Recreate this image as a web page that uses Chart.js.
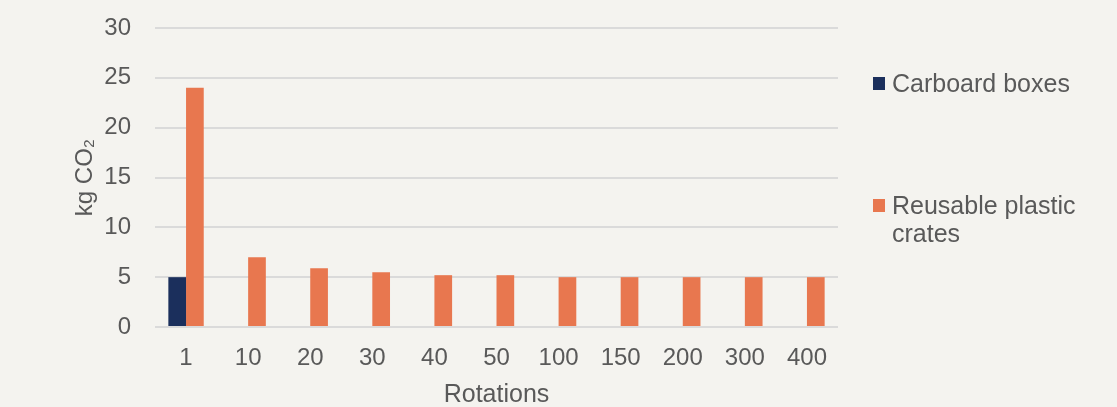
<!DOCTYPE html>
<html lang="en">
<head>
  <meta charset="UTF-8" />
  <title>kg CO2 per rotation</title>
  <script src="https://cdn.jsdelivr.net/npm/chart.js"></script>
  <style>
    html, body {
      margin: 0;
      padding: 0;
      background: #f4f3ef;
      font-family: "Liberation Sans", Arial, sans-serif;
    }
    .wrap {
      position: relative;
      width: 1117px;
      height: 407px;
    }
    #legend {
      position: absolute;
      left: 873px;
      top: 69px;
      color: #595959;
      font-size: 25px;
      line-height: 28px;
    }
    .item {
      display: flex;
      align-items: flex-start;
    }
    .item + .item { margin-top: 94px; }
    .swatch {
      width: 12px;
      height: 13px;
      margin-top: 8px;
      margin-right: 7px;
      flex: none;
    }
    .label { max-width: 215px; }
  </style>
</head>
<body>
  <div class="wrap">
    <canvas id="co2Chart" width="1117" height="407"></canvas>
    <div id="legend"></div>
  </div>

  <script>
    // data
    const rotations = ['1', '10', '20', '30', '40', '50', '100', '150', '200', '300', '400'];
    const cardboard = [5, null, null, null, null, null, null, null, null, null, null];
    const plasticCrates = [24, 7.0, 5.9, 5.5, 5.2, 5.2, 5.0, 5.0, 5.0, 5.0, 5.0];
    const yTicks = [0, 5, 10, 15, 20, 25, 30];

    const navy = '#1b2f5c';
    const orange = '#e8774f';
    const textGray = '#595959';

    const ctx = document.getElementById('co2Chart').getContext('2d');
    const chart = new Chart(ctx, {
      type: 'bar',
      data: {
        labels: rotations,
        datasets: [
          { label: 'Carboard boxes', data: cardboard, backgroundColor: navy },
          { label: 'Reusable plastic crates', data: plasticCrates, backgroundColor: orange }
        ]
      },
      options: {
        responsive: false,
        animation: false,
        layout: { padding: { top: 28, right: 279, bottom: 0, left: 0 } },
        datasets: {
          bar: { categoryPercentage: 0.57, barPercentage: 1.0 }
        },
        scales: {
          x: {
            grid: { display: false },
            border: { display: false },
            ticks: { color: textGray, font: { size: 24 }, padding: 9 },
            title: {
              display: true,
              text: 'Rotations',
              color: textGray,
              font: { size: 25 },
              padding: { top: 0, bottom: -3 }
            },
            afterFit: (s) => { s.height = 80; }
          },
          y: {
            min: 0,
            max: 30,
            afterBuildTicks: (s) => { s.ticks = yTicks.map(v => ({ value: v })); },
            grid: { color: '#dadada', lineWidth: 2, drawTicks: false },
            border: { display: false },
            ticks: { color: textGray, font: { size: 24 }, padding: 24 },
            title: {
              display: true,
              text: 'kg CO₂',
              color: textGray,
              font: { size: 24 },
              padding: { top: 71, bottom: 0 }
            },
            afterFit: (s) => {
              s.width = 155;
              s.paddingTop = 0;
              s.paddingBottom = 0;
            }
          }
        },
        plugins: {
          legend: { display: false },
          tooltip: { enabled: false }
        }
      }
    });

    // legend in html so the long label wraps like the original
    const legend = document.getElementById('legend');
    chart.data.datasets.forEach(ds => {
      const item = document.createElement('div');
      item.className = 'item';
      item.innerHTML = `<span class="swatch" style="background:${ds.backgroundColor}"></span><span class="label">${ds.label}</span>`;
      legend.appendChild(item);
    });
  </script>
</body>
</html>
